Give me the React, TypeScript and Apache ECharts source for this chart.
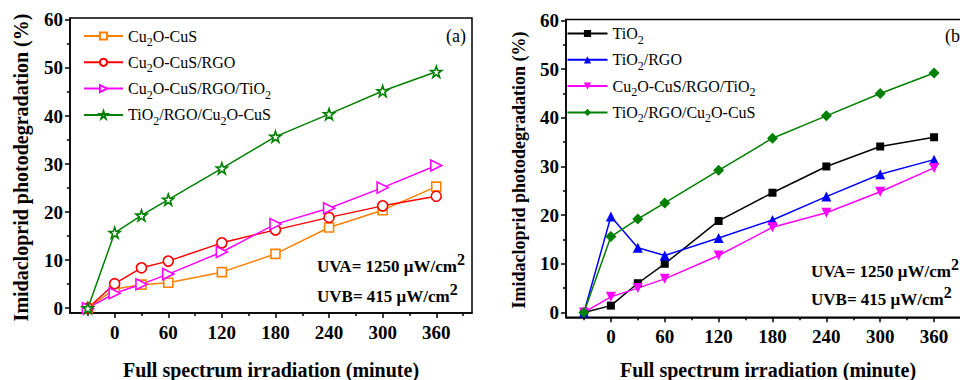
import React, { useEffect, useRef } from 'react';
import * as echarts from 'echarts';

const minutes = [-30, 0, 30, 60, 120, 180, 240, 300, 360];
// Panel (a)
const cu2oCuS = [0, 4.0, 4.9, 5.3, 7.5, 11.3, 16.8, 20.4, 25.3];
const cu2oCuSRgo = [0, 5.1, 8.4, 9.8, 13.6, 16.3, 18.9, 21.3, 23.3];
const cu2oCuSRgoTiO2A = [0, 3.1, 5.0, 7.1, 11.7, 17.5, 20.8, 25.1, 29.7];
const tiO2RgoCu2oCuSA = [0, 15.7, 19.3, 22.6, 29.1, 35.7, 40.4, 45.2, 49.2];
// Panel (b)
const tiO2 = [0, 1.4, 6.0, 10.0, 18.8, 24.6, 30.0, 34.1, 36.0];
const tiO2Rgo = [0, 19.7, 13.3, 11.7, 15.3, 19.0, 23.8, 28.4, 31.4];
const cu2oCuSRgoTiO2B = [0, 3.2, 5.0, 6.9, 11.7, 17.5, 20.5, 24.8, 29.7];
const tiO2RgoCu2oCuSB = [0, 15.6, 19.2, 22.5, 29.2, 35.8, 40.4, 45.0, 49.2];

const xTickLabels = [0, 60, 120, 180, 240, 300, 360];
const xMinorTicks = [-30, 30, 90, 150, 210, 270, 330, 390];
const yTickLabels = [0, 10, 20, 30, 40, 50, 60];
const yMinorTicks = [5, 15, 25, 35, 45, 55];

const namesA = ['Cu2O-CuS', 'Cu2O-CuS/RGO', 'Cu2O-CuS/RGO/TiO2', 'TiO2/RGO/Cu2O-CuS'];
const namesB = ['TiO2 (b)', 'TiO2/RGO (b)', 'Cu2O-CuS/RGO/TiO2 (b)', 'TiO2/RGO/Cu2O-CuS (b)'];

const xTitle = 'Full spectrum irradiation (minute)';
const yTitle = 'Imidacloprid photodegradation (%)';

const FONT = '"Liberation Serif", "Times New Roman", serif';
const STAR = 'path://M50,2 L61.8,36.2 L97.6,36.2 L68.6,57.6 L79.4,92 L50,71 L20.6,92 L31.4,57.6 L2.4,36.2 L38.2,36.2 Z';

const fmtLegend = (name: string) => '{m|' + name.replace(' (b)', '').replace(/2/g, '}{s|2}{m|') + '}';

function App() {
  const ref = useRef<HTMLDivElement>(null);
  useEffect(() => {
    document.body.style.margin = '0';
    const chart = echarts.init(ref.current!, null, { renderer: 'svg' });

    const tickStyle = { color: '#000', width: 1.5 };
    const labelStyle = { fontFamily: FONT, fontWeight: 'bold', fontSize: 19, color: '#000' };

    const xAxes = (grid: number, nameGap: number) => [
      {
        gridIndex: grid, type: 'value', min: -50, max: 400, position: 'bottom',
        axisLine: { show: true, onZero: false, lineStyle: tickStyle },
        axisTick: { show: true, customValues: xTickLabels, length: 5, lineStyle: tickStyle },
        axisLabel: { customValues: xTickLabels, margin: 10, ...labelStyle },
        splitLine: { show: false },
        name: xTitle, nameLocation: 'middle', nameGap,
        nameTextStyle: { fontFamily: FONT, fontWeight: 'bold', color: '#000', fontSize: 20 },
      },
      {
        gridIndex: grid, type: 'value', min: -50, max: 400, position: 'bottom',
        axisLine: { show: false, onZero: false },
        axisTick: { show: true, customValues: xMinorTicks, length: 3, lineStyle: tickStyle },
        axisLabel: { show: false },
        splitLine: { show: false },
      },
    ];
    const yAxes = (grid: number, max: number) => [
      {
        gridIndex: grid, type: 'value', min: -1, max, position: 'left',
        axisLine: { show: true, onZero: false, lineStyle: tickStyle },
        axisTick: { show: true, customValues: yTickLabels, length: 5, lineStyle: tickStyle },
        axisLabel: { customValues: yTickLabels, margin: 7, ...labelStyle },
        splitLine: { show: false },
      },
      {
        gridIndex: grid, type: 'value', min: -1, max, position: 'left',
        axisLine: { show: false, onZero: false },
        axisTick: { show: true, customValues: yMinorTicks, length: 3, lineStyle: tickStyle },
        axisLabel: { show: false },
        splitLine: { show: false },
      },
    ];

    const mk = (name: string, values: number[], axisIdx: number, color: string, symbol: string, size: number, hollow: boolean, rotate = 0) => ({
      type: 'line', name, xAxisIndex: axisIdx, yAxisIndex: axisIdx,
      data: minutes.map((m, i) => [m, values[i]]),
      symbol, symbolSize: size, symbolRotate: rotate,
      lineStyle: { color, width: 1.5 },
      itemStyle: hollow
        ? { color: '#fff', borderColor: color, borderWidth: 1.6 }
        : { color, borderColor: color, borderWidth: 0 },
      emphasis: { disabled: true },
    });

    const legendRich = {
      m: { fontFamily: FONT, fontSize: 16, lineHeight: 24, color: '#000' },
      s: { fontFamily: FONT, fontSize: 12, verticalAlign: 'bottom', color: '#000' },
    };
    const supRich = {
      b: { fontFamily: FONT, fontWeight: 'bold', fontSize: 17, lineHeight: 30, fill: '#000', color: '#000' },
      p: { fontFamily: FONT, fontWeight: 'bold', fontSize: 16, verticalAlign: 'top', fill: '#000', color: '#000' },
    };

    const uvText = (x: number, y: number, t: string) => ({
      type: 'text', x, y,
      style: { text: `{b|${t}}{p|2}`, rich: supRich, verticalAlign: 'middle', align: 'left' },
    });
    const yTitleText = (x: number, y: number, size: number) => ({
      type: 'text', x, y, rotation: Math.PI / 2,
      style: { text: yTitle, font: `bold ${size}px ${FONT}`, fill: '#000', align: 'center', verticalAlign: 'middle' },
    });

    chart.setOption({
      animation: false,
      backgroundColor: '#fff',
      grid: [
        { left: 70, top: 18, width: 402, height: 295, show: true, borderColor: '#000', borderWidth: 1.5, outerBoundsMode: 'none' },
        { left: 566, top: 19.5, width: 404, height: 297.8, show: true, borderColor: '#000', borderWidth: 1.5, outerBoundsMode: 'none' },
      ],
      xAxis: [...xAxes(0, 47), ...xAxes(1, 43)],
      yAxis: [...yAxes(0, 60.4), ...yAxes(1, 60.2)],
      legend: [
        {
          data: namesA, orient: 'vertical', left: 78, top: 23, itemWidth: 39, itemHeight: 9, itemGap: 6.3,
          selectedMode: false, formatter: fmtLegend,
          textStyle: { fontFamily: FONT, fontSize: 16, color: '#000', rich: legendRich },
        },
        {
          data: namesB, orient: 'vertical', left: 561.5, top: 20.5, itemWidth: 40, itemHeight: 9, itemGap: 6.3,
          selectedMode: false, formatter: fmtLegend,
          textStyle: { fontFamily: FONT, fontSize: 16, color: '#000', rich: legendRich },
        },
      ],
      series: [
        mk(namesA[0], cu2oCuS, 0, '#FF8000', 'rect', 9, true),
        mk(namesA[1], cu2oCuSRgo, 0, '#FF0000', 'circle', 10, true),
        mk(namesA[2], cu2oCuSRgoTiO2A, 0, '#FF00FF', 'triangle', 11, true, -90),
        mk(namesA[3], tiO2RgoCu2oCuSA, 0, '#007F00', STAR, 11, true),
        mk(namesB[0], tiO2, 2, '#000000', 'rect', 8, false),
        mk(namesB[1], tiO2Rgo, 2, '#0000FF', 'triangle', 10, false),
        mk(namesB[2], cu2oCuSRgoTiO2B, 2, '#FF00FF', 'triangle', 10, false, 180),
        mk(namesB[3], tiO2RgoCu2oCuSB, 2, '#007F00', 'diamond', 11, false),
      ],
      graphic: [
        yTitleText(21, 167.5, 20),
        yTitleText(519, 170, 18),
        { type: 'text', x: 446, y: 36, style: { text: '(a)', font: `18px ${FONT}`, fill: '#000', verticalAlign: 'middle' } },
        { type: 'text', x: 945, y: 36, style: { text: '(b)', font: `18px ${FONT}`, fill: '#000', verticalAlign: 'middle' } },
        uvText(317, 266, 'UVA= 1250 μW/cm'),
        uvText(317, 296, 'UVB= 415 μW/cm'),
        uvText(811, 271, 'UVA= 1250 μW/cm'),
        uvText(811, 299, 'UVB= 415 μW/cm'),
      ],
    });
    return () => chart.dispose();
  }, []);
  return <div ref={ref} style={{ width: 960, height: 380 }} />;
}

export default App;
